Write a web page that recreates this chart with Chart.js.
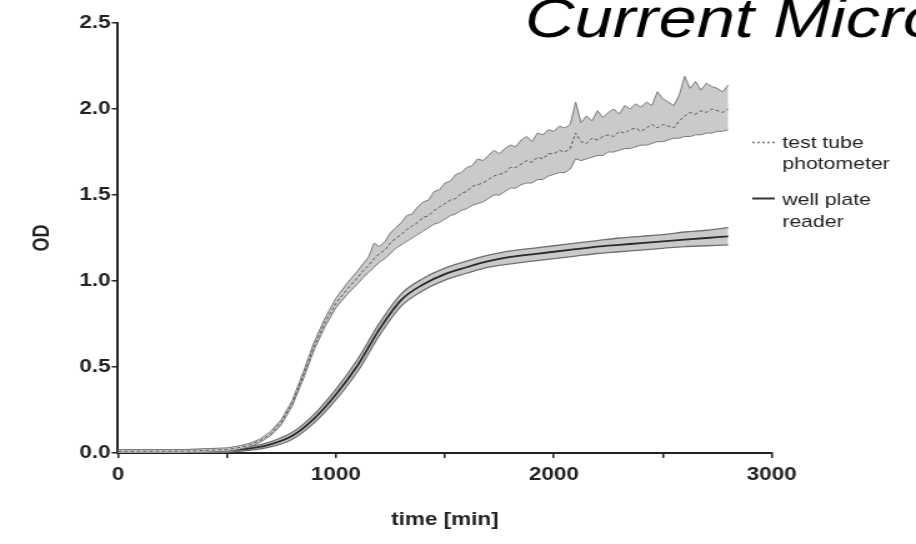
<!DOCTYPE html>
<html>
<head>
<meta charset="utf-8">
<script src="https://cdn.jsdelivr.net/npm/chart.js@4.4.1/dist/chart.umd.min.js"></script>
<style>
  html, body { margin: 0; padding: 0; background: #fff; }
</style>
</head>
<body>
<canvas id="myChart" width="733" height="544" style="display:block;width:916px;height:544px"></canvas>
<script>
// time points (min) for the test tube photometer series
const tubeTime = [0, 100, 200, 300, 400, 500, 550, 600, 650, 700, 750, 800, 850, 900, 950, 1000, 1050, 1100,
    1125, 1150, 1175, 1200, 1225, 1250, 1275, 1300, 1325, 1350, 1375, 1400, 1425, 1450, 1475, 1500,
    1525, 1550, 1575, 1600, 1625, 1650, 1675, 1700, 1725, 1750, 1775, 1800, 1825, 1850, 1875, 1900,
    1925, 1950, 1975, 2000, 2025, 2050, 2075, 2100, 2125, 2150, 2175, 2200, 2225, 2250, 2275, 2300,
    2325, 2350, 2375, 2400, 2425, 2450, 2475, 2500, 2525, 2550, 2575, 2600, 2625, 2650, 2675, 2700,
    2725, 2750, 2775, 2800];

const tubeMean = [0.01, 0.01, 0.01, 0.01, 0.015, 0.02, 0.03, 0.045, 0.07, 0.11, 0.18, 0.29, 0.45, 0.62, 0.76, 0.87, 0.95, 1.02,
    1.06, 1.09, 1.13, 1.16, 1.18, 1.22, 1.25, 1.27, 1.30, 1.32, 1.34, 1.37, 1.38, 1.41, 1.43, 1.45,
    1.47, 1.48, 1.51, 1.52, 1.55, 1.56, 1.57, 1.59, 1.61, 1.62, 1.63, 1.66, 1.66, 1.68, 1.70, 1.69,
    1.72, 1.71, 1.74, 1.74, 1.76, 1.75, 1.77, 1.86, 1.81, 1.80, 1.83, 1.82, 1.84, 1.85, 1.84, 1.87,
    1.86, 1.88, 1.89, 1.87, 1.89, 1.91, 1.89, 1.91, 1.90, 1.89, 1.93, 1.96, 1.98, 1.97, 1.99, 1.98,
    2.00, 1.99, 1.98, 2.00];

const tubeHigh = [0.02, 0.02, 0.02, 0.02, 0.025, 0.03, 0.04, 0.055, 0.08, 0.125, 0.195, 0.305, 0.47, 0.645, 0.785, 0.90, 0.985, 1.06,
    1.10, 1.14, 1.22, 1.20, 1.23, 1.28, 1.31, 1.34, 1.38, 1.39, 1.43, 1.46, 1.47, 1.52, 1.53, 1.57,
    1.58, 1.62, 1.63, 1.66, 1.67, 1.71, 1.70, 1.73, 1.76, 1.74, 1.77, 1.79, 1.78, 1.82, 1.84, 1.81,
    1.86, 1.85, 1.88, 1.87, 1.90, 1.89, 1.91, 2.04, 1.92, 1.96, 1.93, 1.99, 1.95, 1.98, 2.00, 1.97,
    2.02, 2.00, 2.03, 2.01, 2.04, 2.02, 2.10, 2.06, 2.04, 2.02, 2.08, 2.19, 2.12, 2.16, 2.11, 2.15,
    2.13, 2.12, 2.10, 2.14];

const tubeLow = [0.0, 0.0, 0.0, 0.0, 0.005, 0.01, 0.02, 0.035, 0.06, 0.10, 0.165, 0.275, 0.43, 0.60, 0.735, 0.845, 0.92, 0.985,
    1.02, 1.05, 1.08, 1.11, 1.13, 1.16, 1.19, 1.21, 1.23, 1.25, 1.27, 1.29, 1.31, 1.33, 1.34, 1.36,
    1.38, 1.39, 1.41, 1.42, 1.44, 1.45, 1.46, 1.48, 1.50, 1.50, 1.52, 1.54, 1.54, 1.56, 1.57, 1.57,
    1.59, 1.59, 1.61, 1.62, 1.63, 1.63, 1.65, 1.71, 1.70, 1.71, 1.72, 1.73, 1.73, 1.75, 1.75, 1.76,
    1.77, 1.77, 1.78, 1.79, 1.79, 1.80, 1.81, 1.81, 1.82, 1.83, 1.83, 1.84, 1.84, 1.85, 1.85, 1.86,
    1.86, 1.87, 1.87, 1.88];

// well plate reader series
const plateTime = [0, 100, 200, 300, 400, 500, 600, 700, 800, 900, 1000, 1100, 1200, 1300, 1400,
    1500, 1600, 1700, 1800, 1900, 2000, 2100, 2200, 2300, 2400, 2500, 2600, 2700, 2800];
const plateMean = [0.01, 0.01, 0.01, 0.01, 0.012, 0.015, 0.025, 0.05, 0.10, 0.20, 0.34, 0.51, 0.72, 0.89, 0.98,
    1.04, 1.08, 1.115, 1.14, 1.155, 1.17, 1.185, 1.20, 1.21, 1.22, 1.23, 1.24, 1.25, 1.26];
const plateHigh = [0.02, 0.02, 0.02, 0.02, 0.022, 0.025, 0.035, 0.065, 0.12, 0.225, 0.37, 0.545, 0.755, 0.925, 1.015,
    1.075, 1.115, 1.15, 1.175, 1.19, 1.205, 1.22, 1.235, 1.25, 1.26, 1.27, 1.285, 1.295, 1.31];
const plateLow = [0.0, 0.0, 0.0, 0.0, 0.002, 0.005, 0.015, 0.035, 0.08, 0.175, 0.31, 0.475, 0.685, 0.855, 0.945,
    1.005, 1.045, 1.08, 1.10, 1.115, 1.13, 1.145, 1.16, 1.17, 1.18, 1.19, 1.20, 1.205, 1.21];

const xTicks = [0, 1000, 2000, 3000];
const yTicks = [0, 0.5, 1.0, 1.5, 2.0, 2.5];

const toPoints = (xs, ys) => xs.map((x, i) => ({ x: x, y: ys[i] }));

const FONT = "'Liberation Sans', Arial, sans-serif";
Chart.defaults.font.family = FONT;
Chart.defaults.color = '#222';

// big italic header text cut off at the top edge
const headerPlugin = {
    id: 'header',
    afterDraw(chart) {
        const ctx = chart.ctx;
        ctx.save();
        ctx.font = 'italic 55px ' + FONT;
        ctx.fillStyle = '#000';
        ctx.textBaseline = 'alphabetic';
        ctx.fillText('Current Micro', 420, 37);
        ctx.restore();
    }
};

// two line legend on the right
const sideLegend = {
    id: 'sideLegend',
    afterDraw(chart) {
        const ctx = chart.ctx;
        ctx.save();
        ctx.lineWidth = 1.5;
        ctx.strokeStyle = '#777';
        ctx.setLineDash([2, 2]);
        ctx.beginPath(); ctx.moveTo(602, 142.5); ctx.lineTo(620, 142.5); ctx.stroke();
        ctx.setLineDash([]);
        ctx.lineWidth = 2;
        ctx.strokeStyle = '#333';
        ctx.beginPath(); ctx.moveTo(602, 198.5); ctx.lineTo(620, 198.5); ctx.stroke();
        ctx.font = '17px ' + FONT;
        ctx.fillStyle = '#222';
        ctx.fillText('test tube', 626, 148);
        ctx.fillText('photometer', 626, 169);
        ctx.fillText('well plate', 626, 205);
        ctx.fillText('reader', 626, 227);
        ctx.restore();
    }
};

const canvas = document.getElementById('myChart');
const ctx = canvas.getContext('2d');
const chart = new Chart(ctx, {
    type: 'line',
    data: {
        datasets: [
            {
                label: 'test tube photometer',
                data: toPoints(tubeTime, tubeMean),
                borderColor: '#5a5a5a',
                borderWidth: 1,
                borderDash: [3, 2],
                pointRadius: 0,
                fill: false
            },
            {
                label: 'tube upper',
                data: toPoints(tubeTime, tubeHigh),
                borderColor: '#7a7a7a',
                borderWidth: 1,
                pointRadius: 0,
                fill: false
            },
            {
                label: 'tube lower',
                data: toPoints(tubeTime, tubeLow),
                borderColor: '#7a7a7a',
                borderWidth: 1,
                pointRadius: 0,
                backgroundColor: 'rgb(202,202,202)',
                fill: '-1'
            },
            {
                label: 'well plate reader',
                data: toPoints(plateTime, plateMean),
                borderColor: '#2a2a2a',
                borderWidth: 1.8,
                pointRadius: 0,
                cubicInterpolationMode: 'monotone',
                fill: false
            },
            {
                label: 'plate upper',
                data: toPoints(plateTime, plateHigh),
                borderColor: '#707070',
                borderWidth: 1.3,
                pointRadius: 0,
                cubicInterpolationMode: 'monotone',
                fill: false
            },
            {
                label: 'plate lower',
                data: toPoints(plateTime, plateLow),
                borderColor: '#707070',
                borderWidth: 1.3,
                pointRadius: 0,
                cubicInterpolationMode: 'monotone',
                backgroundColor: 'rgb(202,202,202)',
                fill: '-1'
            }
        ]
    },
    options: {
        responsive: false,
        animation: false,
        events: [],
        layout: { padding: { top: 23, right: 115.4, left: 0, bottom: 0 } },
        plugins: {
            legend: { display: false },
            tooltip: { enabled: false },
            title: { display: false }
        },
        scales: {
            x: {
                type: 'linear',
                min: 0,
                max: 3000,
                afterFit: (scale) => { scale.height = 91; },
                afterBuildTicks: (scale) => {
                    scale.ticks = [0, 500, 1000, 1500, 2000, 2500, 3000].map(v => ({ value: v }));
                },
                ticks: {
                    autoSkip: false,
                    maxRotation: 0,
                    padding: 6,
                    color: '#222',
                    font: { size: 18, weight: 'bold' },
                    callback: (v) => xTicks.includes(v) ? String(v) : ''
                },
                grid: { drawOnChartArea: false, drawTicks: true, tickLength: 5, color: '#222', lineWidth: 1.5 },
                border: { display: true, color: '#222', width: 2 },
                title: {
                    display: true,
                    text: 'time [min]',
                    color: '#222',
                    font: { size: 18, weight: 'bold' },
                    padding: { top: 0, bottom: 13 }
                }
            },
            y: {
                min: 0,
                max: 2.5,
                afterFit: (scale) => { scale.width = 94.4; },
                afterBuildTicks: (scale) => {
                    scale.ticks = yTicks.map(v => ({ value: v }));
                },
                ticks: {
                    padding: 1,
                    color: '#222',
                    font: { size: 18, weight: 'bold' },
                    callback: (v) => Number(v).toFixed(1)
                },
                grid: { drawOnChartArea: false, drawTicks: true, tickLength: 5, color: '#222', lineWidth: 1.5 },
                border: { display: true, color: '#222', width: 2 },
                title: {
                    display: true,
                    text: 'OD',
                    color: '#222',
                    font: { size: 18, weight: 'bold' },
                    padding: { top: 23, bottom: 0 }
                }
            }
        }
    },
    plugins: [headerPlugin, sideLegend]
});
// the source figure is stretched horizontally, so show the canvas wider than it is drawn
canvas.style.width = '916px';
canvas.style.height = '544px';
</script>
</body>
</html>
